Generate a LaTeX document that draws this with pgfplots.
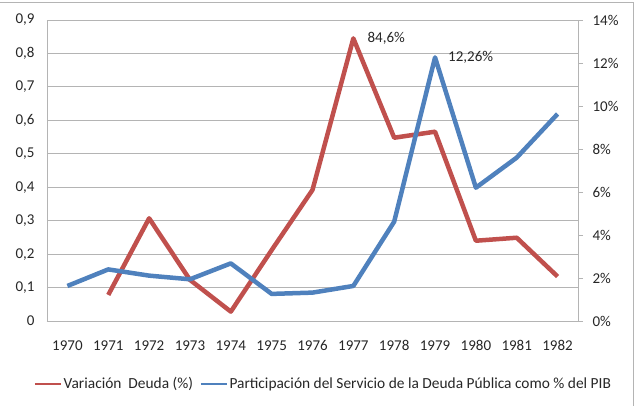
\documentclass[border=0pt]{standalone}
\usepackage{fontspec}
\setmainfont{Carlito}
\usepackage{pgfplots}
\pgfplotsset{compat=1.18}
\definecolor{exred}{RGB}{192,80,77}
\definecolor{exblue}{RGB}{79,129,189}
\definecolor{exgrid}{RGB}{180,180,180}
\begin{document}
\begin{tikzpicture}
\path[use as bounding box] (-47pt,-85pt) rectangle (587pt,321pt);
\draw[exgrid, line width=0.8pt] (-47pt,319pt) -- (586pt,319pt) -- (586pt,-85pt);
\begin{axis}[
  at={(0pt,0pt)}, anchor=south west,
  scale only axis, width=531pt, height=301pt,
  xmin=-0.5, xmax=12.5, ymin=0, ymax=0.9,
  xtick={0,...,12},
  xticklabels={1970,1971,1972,1973,1974,1975,1976,1977,1978,1979,1980,1981,1982},
  ytick={0,0.1,...,0.9},
  axis x line*=bottom, axis y line*=left,
  axis line style={exgrid, line width=0.8pt},
  x axis line style={-}, y axis line style={-},
  major tick length=0pt,
  ymajorgrids, grid style={exgrid, line width=0.8pt},
  tick label style={font=\fontsize{15}{18}\selectfont, text=black!85},
  /pgf/number format/assume math mode=true,
  /pgf/number format/use comma, /pgf/number format/fixed, /pgf/number format/precision=1,
  xticklabel style={yshift=-16pt},
  yticklabel style={xshift=-9pt},
  clip=false,
]
\addplot[exred, line width=4.5pt, line join=round] coordinates {
(1,0.078) (2,0.307) (3,0.123) (4,0.028) (5,0.212) (6,0.392) (7,0.845) (8,0.548) (9,0.566) (10,0.240) (11,0.249) (12,0.133)};
\node[anchor=west, inner sep=0pt, font=\fontsize{15}{18}\selectfont, text=black!85] at (axis cs:7,0.845) [xshift=14pt] {84,6\%};
\end{axis}
\begin{axis}[
  at={(0pt,0pt)}, anchor=south west,
  scale only axis, width=531pt, height=301pt,
  xmin=-0.5, xmax=12.5, ymin=0, ymax=14,
  ytick={0,2,...,14},
  axis y line*=right, axis x line=none,
  axis line style={exgrid, line width=0.8pt},
  y axis line style={-},
  tick align=outside, major tick length=5pt,
  ytick style={exgrid, line width=0.8pt},
  yticklabel={\pgfmathprintnumber{\tick}\%},
  tick label style={font=\fontsize{15}{18}\selectfont, text=black!85},
  /pgf/number format/assume math mode=true,
  yticklabel style={xshift=6pt},
  clip=false,
  legend style={at={(0.52,-0.209)}, anchor=center, draw=none, fill=none,
    font=\fontsize{15.4}{18}\selectfont, text=black!85, legend columns=2,
    nodes={inner sep=1.5pt},
    /tikz/every even column/.append style={column sep=5pt}},
  legend image code/.code={\draw[#1, line width=2.5pt] (0pt,0pt) -- (26pt,0pt);},
]
\addlegendimage{exred}
\addlegendentry{Variación\ \ Deuda (\%)}
\addplot[exblue, line width=4.5pt, line join=round] coordinates {
(0,1.63) (1,2.40) (2,2.11) (3,1.94) (4,2.68) (5,1.26) (6,1.32) (7,1.63) (8,4.62) (9,12.26) (10,6.20) (11,7.60) (12,9.63)};
\addlegendentry{Participación del Servicio de la Deuda Pública como \% del PIB}
\node[anchor=west, inner sep=0pt, font=\fontsize{15}{18}\selectfont, text=black!85] at (axis cs:9,12.26) [xshift=13pt] {12,26\%};
\end{axis}
\end{tikzpicture}
\end{document}
